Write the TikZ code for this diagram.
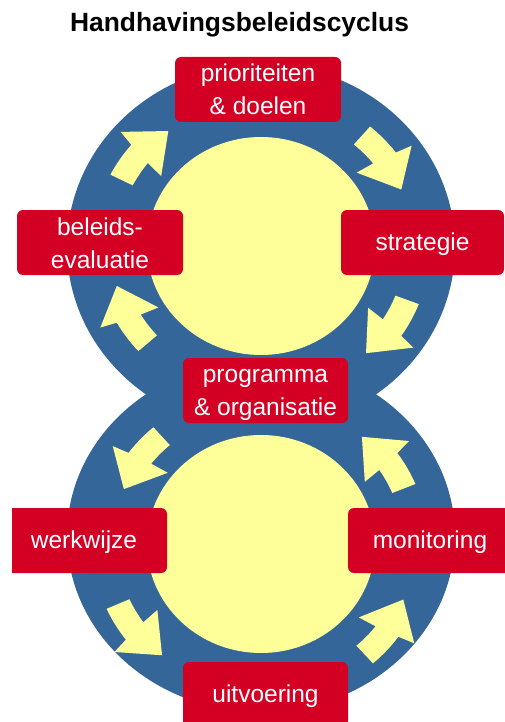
\documentclass[tikz,border=0pt]{standalone}
\usepackage{fontspec}
\setmainfont{Liberation Sans}
\definecolor{ringblue}{RGB}{52,102,153}
\definecolor{softyellow}{RGB}{255,255,153}
\definecolor{boxred}{RGB}{212,0,36}
\newcommand{\bs}{\rule[-4pt]{0pt}{26pt}}
\newcommand{\ringarrow}[3]{%
  \fill[softyellow] ({#1}:{169+(#3)})
    arc[start angle={#1}, end angle={#1+(#2)*12.9}, radius={169+(#3)}]
    -- ({#1+(#2)*14}:{186+(#3)})
    -- ({#1+(#2)*26}:{154+(#3)})
    -- ({#1+(#2)*10}:{125+(#3)})
    -- ({#1+(#2)*11.2}:{144+(#3)})
    arc[start angle={#1+(#2)*11.2}, end angle={#1}, radius={144+(#3)}]
    -- cycle;}
\tikzset{
  box/.style={fill=boxred, rounded corners=6pt, text=white,
    font=\fontsize{24.5}{33}\selectfont, align=center, inner sep=0pt,
    minimum width=166pt, minimum height=65pt},
  boxtext/.style={text=white, font=\fontsize{24.5}{33}\selectfont,
    align=center, inner sep=0pt, minimum height=65pt},
  titletext/.style={font=\bfseries\fontsize{26.4}{30}\selectfont, anchor=base, inner sep=0pt}
}
\begin{document}
\begin{tikzpicture}[x=1pt,y=-1pt]
\useasboundingbox (0,0) rectangle (504,722);
% rings
\fill[ringblue] (261,247) ellipse [x radius=194pt, y radius=183pt];
\fill[ringblue] (261,536) ellipse [x radius=194pt, y radius=176pt];
\fill[softyellow] (261,246) ellipse [x radius=114pt, y radius=109pt];
\fill[softyellow] (261,544) ellipse [x radius=114pt, y radius=109pt];
% arrows upper circle (clockwise)
\begin{scope}[shift={(261,247)}, yscale=-0.943]
  \ringarrow{153}{-1}{0}
  \ringarrow{49.5}{-1}{-1}
  \ringarrow{-21}{-1}{0}
  \ringarrow{222}{-1}{-4}
\end{scope}
% arrows lower circle (counter-clockwise)
\begin{scope}[shift={(261,544)}, yscale=-0.943]
  \ringarrow{131}{1}{-5}
  \ringarrow{204}{1}{0}
  \ringarrow{311.5}{1}{0}
  \ringarrow{22.4}{1}{-2}
\end{scope}
% boxes
\node[box] (prio) at (258,89.5) {\bs prioriteiten\\\bs\& doelen};
\node[box] (evalu) at (100,242.5) {\bs beleids-\\\bs evaluatie};
\node[box, minimum width=163pt] (strat) at (422.5,242.5) {\bs strategie};
\node[box, minimum width=165pt] (prog) at (265.5,390.5) {\bs programma\\\bs\& organisatie};
\fill[boxred] (12,508) -- (12,573) -- (161,573)
  arc[start angle=90, end angle=0, radius=6] -- (167,514)
  arc[start angle=0, end angle=-90, radius=6] -- cycle;
\node[boxtext] (werk) at (84,540.5) {\bs werkwijze};
\node[box, minimum width=164pt] (moni) at (430,540.5) {\bs monitoring};
\node[box, minimum width=165pt] (uitv) at (265.5,694.5) {\bs uitvoering};
% title
\node[titletext] (title) at (239.5,32) {Handhavingsbeleidscyclus};
\end{tikzpicture}
\end{document}
